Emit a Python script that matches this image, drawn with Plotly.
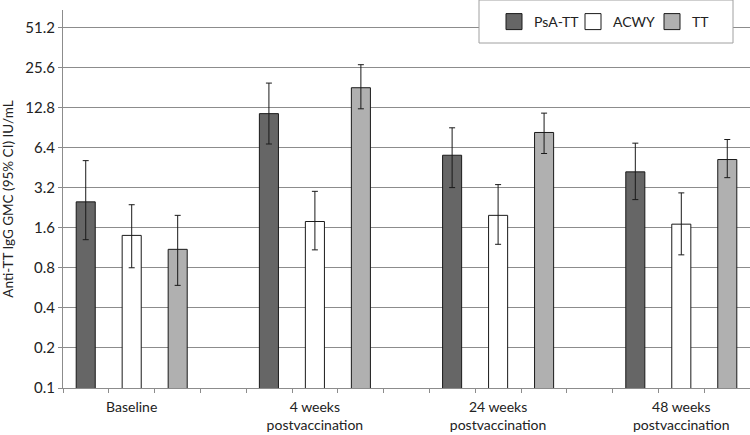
import plotly.graph_objects as go

# 各时间点
groups = ["Baseline", "4 weeks<br>postvaccination", "24 weeks<br>postvaccination", "48 weeks<br>postvaccination"]
group_pos = [0, 1, 2, 3]

# GMC 及 95% CI
psa_gmc = [2.5, 11.5, 5.6, 4.2]
psa_hi = [5.1, 19.5, 9.0, 6.9]
psa_lo = [1.3, 6.8, 3.2, 2.6]

acwy_gmc = [1.4, 1.78, 1.98, 1.70]
acwy_hi = [2.38, 3.0, 3.37, 2.92]
acwy_lo = [0.80, 1.09, 1.20, 1.00]

tt_gmc = [1.10, 18.0, 8.3, 5.2]
tt_hi = [1.98, 26.8, 11.6, 7.35]
tt_lo = [0.59, 12.5, 5.77, 3.8]

y_ticks = [0.1, 0.2, 0.4, 0.8, 1.6, 3.2, 6.4, 12.8, 25.6, 51.2]

series = [
    ("PsA-TT", psa_gmc, psa_hi, psa_lo, "#666666", -0.303),
    ("ACWY", acwy_gmc, acwy_hi, acwy_lo, "#ffffff", -0.052),
    ("TT", tt_gmc, tt_hi, tt_lo, "#b0b0b0", 0.199),
]

FONT = "Lato, 'Liberation Sans', sans-serif"

fig = go.Figure()
for name, gmc, hi, lo, color, off in series:
    fig.add_trace(go.Bar(
        x=group_pos, y=gmc,
        width=0.104, offset=off,
        marker=dict(color=color, line=dict(color="#1a1a1a", width=1)),
        error_y=dict(type="data", symmetric=False,
                     array=[h - g for h, g in zip(hi, gmc)],
                     arrayminus=[g - l for g, l in zip(gmc, lo)],
                     color="#1a1a1a", thickness=1, width=3),
        showlegend=False, name=name,
    ))
    # 图例用的方块
    fig.add_trace(go.Scatter(
        x=[None], y=[None], mode="markers", name=name,
        marker=dict(symbol="square", size=16, color=color,
                    line=dict(color="#1a1a1a", width=1)),
    ))

fig.update_layout(
    width=750, height=435,
    margin=dict(l=63, r=0, t=10, b=47),
    paper_bgcolor="white", plot_bgcolor="white",
    font=dict(family=FONT, size=13, color="#222222"),
    barmode="overlay",
    legend=dict(orientation="h", x=(494 - 63) / 687, y=1 + 4 / 378,
                xanchor="left", yanchor="top",
                bgcolor="rgba(0,0,0,0)", borderwidth=0, entrywidth=34,
                font=dict(size=14), itemsizing="trace"),
    xaxis=dict(
        range=[-0.375, 3.375], tickvals=group_pos, ticktext=groups,
        ticks="", showgrid=False, zeroline=False,
        showline=True, linecolor="#8c8c8c", linewidth=1,
        minor=dict(tick0=-0.375, dtick=0.25, ticks="outside", ticklen=4,
                   tickcolor="#8c8c8c", showgrid=False),
        tickfont=dict(size=14), ticklabelstandoff=6, automargin=False,
    ),
    yaxis=dict(
        type="log", range=[-1, 1.839],
        tickvals=y_ticks, ticktext=[str(v) for v in y_ticks],
        ticks="outside", ticklen=4, tickcolor="#8c8c8c",
        showgrid=True, gridcolor="#8c8c8c", gridwidth=1,
        showline=True, linecolor="#8c8c8c", linewidth=1,
        title=dict(text="Anti-TT IgG GMC (95% CI) IU/mL", font=dict(size=13.5), standoff=8),
        tickfont=dict(size=15), automargin=False,
    ),
    shapes=[dict(type="rect", xref="paper", yref="paper",
                 x0=(479 - 63) / 687, x1=(733 - 63) / 687,
                 y0=1 - 33 / 378, y1=1 + 10 / 378,
                 line=dict(color="#a0a0a0", width=1), fillcolor="white",
                 layer="above")],
)

# 去掉页面 body 默认的 8px 边距，隐藏工具栏
fig.write_html("out.html", config={"displayModeBar": False},
               post_script="document.body.style.margin='0';")
